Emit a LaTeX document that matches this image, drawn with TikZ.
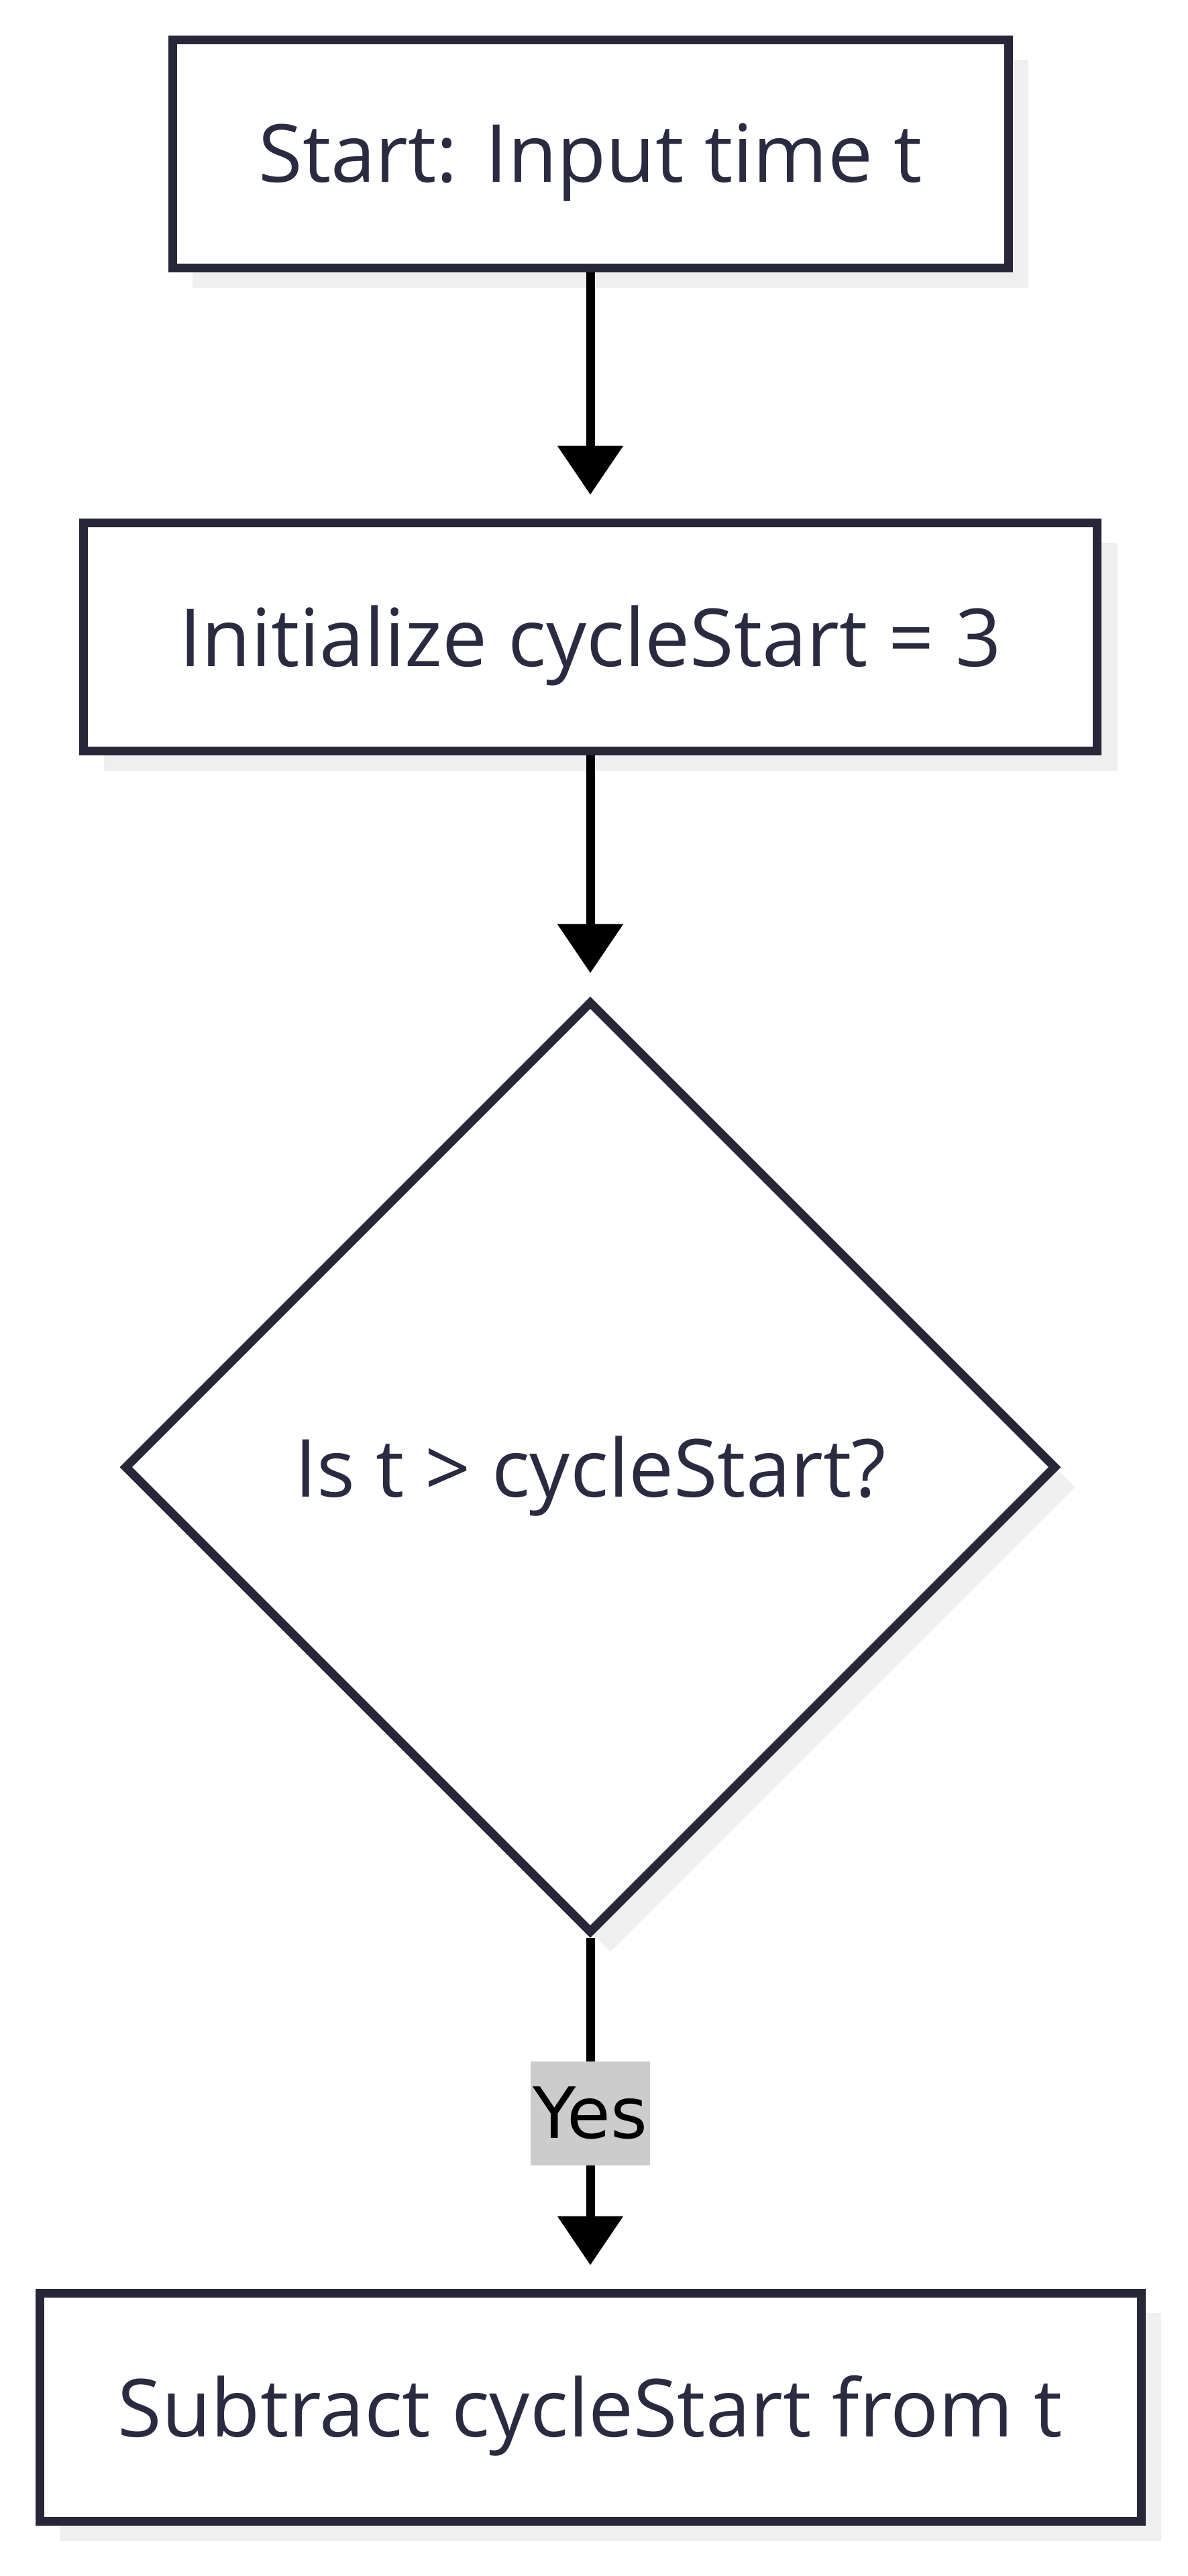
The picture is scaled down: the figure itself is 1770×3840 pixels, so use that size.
\documentclass[tikz,border=0pt]{standalone}
\usepackage{fontspec}
\setmainfont{Open Sans}
\newfontfamily\tagfont{DejaVu Sans}
\usetikzlibrary{arrows.meta,positioning,shapes.geometric,shadows}
\definecolor{ink}{HTML}{272739}
\definecolor{body}{HTML}{2A2A40}
\definecolor{shadowgrey}{HTML}{EFEFEF}
\definecolor{tag}{HTML}{CCCCCC}

\begin{document}
\begin{tikzpicture}[x=0.1mm, y=-0.1mm, >={Triangle[length=7.3mm, width=9.5mm]},
  stepbox/.style={rectangle, draw=ink, line width=1.3mm, fill=white, minimum height=34mm,
    font=\fontsize{34}{40}\selectfont\color{body}, text depth=0.05em,
    drop shadow={shadow xshift=3mm, shadow yshift=-3mm, fill=shadowgrey, opacity=1}},
  testbox/.style={diamond, aspect=1, draw=ink, line width=1.3mm, fill=white, inner sep=0pt,
    minimum width=139mm, minimum height=139mm,
    font=\fontsize{34}{40}\selectfont\color{body}, text depth=0.05em,
    drop shadow={shadow xshift=3mm, shadow yshift=-3mm, fill=shadowgrey, opacity=1}},
  flow/.style={->, line width=1.3mm, black, shorten >=3.5mm},
  yestag/.style={fill=tag, inner xsep=0.4mm, inner ysep=0pt, minimum height=15.5mm,
    font=\tagfont\fontsize{30}{36}\selectfont\color{body}}]
  \useasboundingbox (0,0) rectangle (1770,3840);

  \coordinate (c1) at (880,229);
  \coordinate (c2) at (880,949);
  \coordinate (c3) at (880,2187);
  \coordinate (c4) at (880,3588);

  \node[stepbox, minimum width=124.6mm] (start) at (c1) {Start: Input time t};
  \node[stepbox, minimum width=151.1mm] (init) at (c2) {Initialize cycleStart = 3};
  \node[testbox] (check) at (c3) {Is t > cycleStart?};
  \node[stepbox, minimum width=164.2mm] (subtract) at (c4) {Subtract cycleStart from t};

  \draw[flow] (start) -- (init);
  \draw[flow] (init) -- (check);
  \draw[flow] (check) -- node[yestag] (yes) {Yes} (subtract);
\end{tikzpicture}
\end{document}
